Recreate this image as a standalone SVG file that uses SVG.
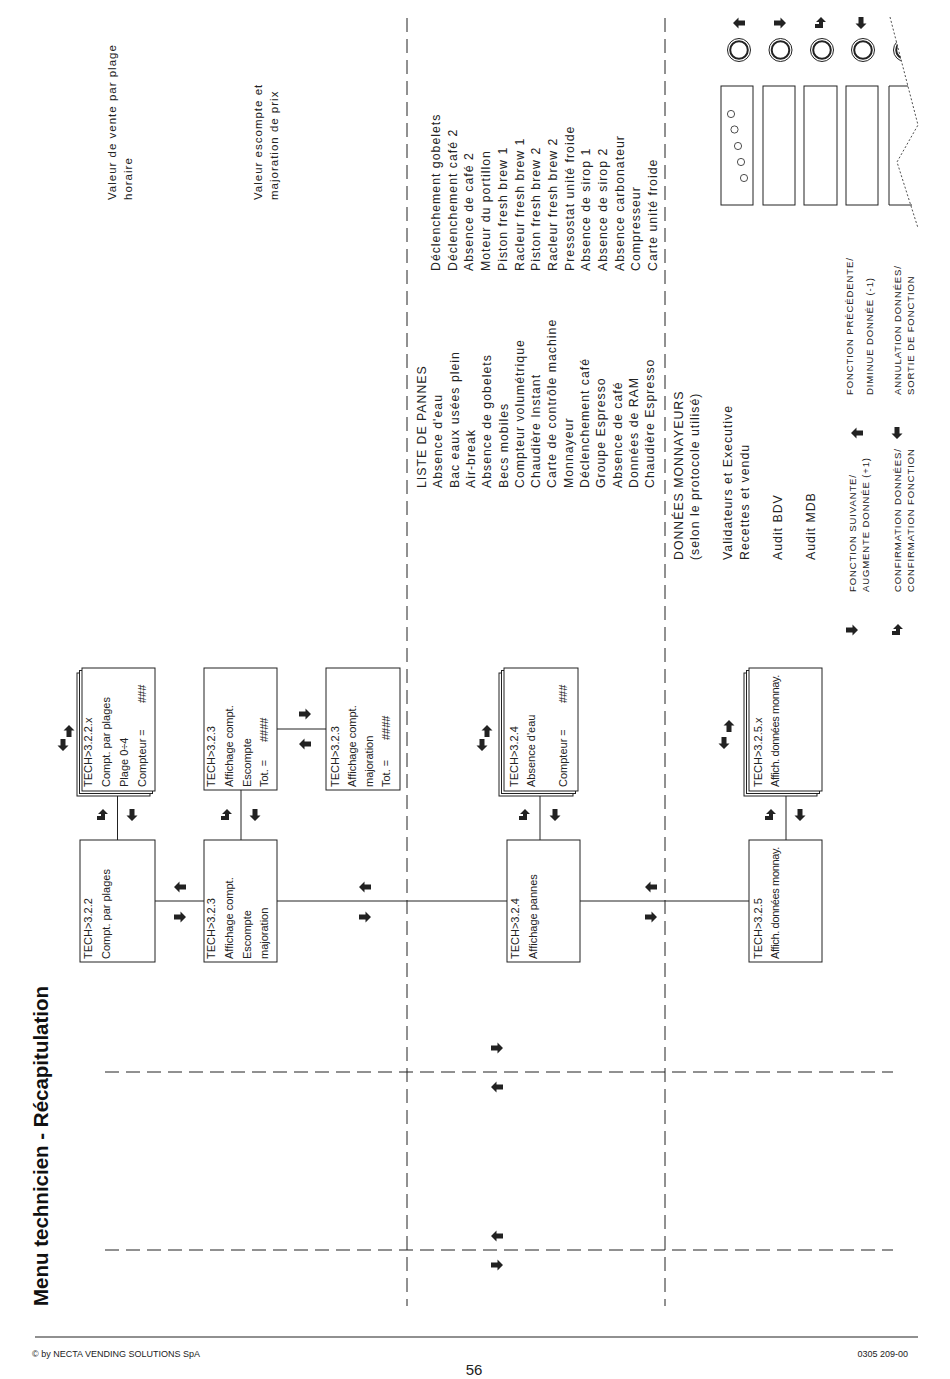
<svg xmlns="http://www.w3.org/2000/svg" width="950" height="1379" viewBox="0 0 950 1379">
<style>
text{font-family:"Liberation Sans",Arial,sans-serif;fill:#222}
.bx{fill:#fff;stroke:#222;stroke-width:1}
.bt{font-size:11px}
.nr{letter-spacing:-0.35px}
.ls{font-size:12.3px;letter-spacing:1px}
.sd{font-size:11.5px;letter-spacing:1px}
.lg{font-size:9.5px;letter-spacing:0.9px}
.ln{stroke:#222;stroke-width:1;fill:none}
.dash{stroke:#222;stroke-width:1;fill:none;stroke-dasharray:14 7}
.ar{fill:#222}
</style>
<defs>
<path id="aL" class="ar" d="M-6,0 L-0.5,-5.5 L-0.5,-2.5 L6,-2.5 L6,2.5 L-0.5,2.5 L-0.5,5.5 Z"/>
<path id="aR" class="ar" d="M6,0 L0.5,-5.5 L0.5,-2.5 L-6,-2.5 L-6,2.5 L0.5,2.5 L0.5,5.5 Z"/>
<path id="aD" class="ar" d="M0,6 L-5.5,0.5 L-2.5,0.5 L-2.5,-6 L2.5,-6 L2.5,0.5 L5.5,0.5 Z"/>
<path id="aUp" class="ar" d="M0,-6 L5.5,-0.5 L2.5,-0.5 L2.5,6 L-2.5,6 L-2.5,-0.5 L-5.5,-0.5 Z"/>
<path id="aRet" class="ar" d="M1,-6 L6,-1 L3,-1 L3,5 L-5,5 L-5,1 L-1,1 L-1,-1 L-4,-1 Z"/>
<clipPath id="cut"><polygon points="700,0 888,0 890,17 918,125 897,162 917,220 917,240 700,240"/></clipPath>
</defs>

<!-- title -->
<g id="title">
<text transform="translate(48,1306) rotate(-90)" style="font-size:20.5px;font-weight:bold;fill:#111">Menu technicien - Récapitulation</text>
</g>

<!-- separators -->
<g id="separators">
<line class="dash" x1="407" y1="18" x2="407" y2="1306"/>
<line class="dash" x1="665" y1="18" x2="665" y2="1306"/>
<line class="dash" x1="105" y1="1072" x2="893" y2="1072"/>
<line class="dash" x1="105" y1="1250" x2="893" y2="1250"/>
<use href="#aR" x="497" y="1048"/>
<use href="#aL" x="497" y="1087"/>
<use href="#aL" x="497" y="1236"/>
<use href="#aR" x="497" y="1265"/>
</g>

<!-- connectors -->
<g id="connectors">
<line class="ln" x1="155" y1="901" x2="204" y2="901"/>
<line class="ln" x1="277" y1="901" x2="507" y2="901"/>
<line class="ln" x1="580" y1="901" x2="749" y2="901"/>
<line class="ln" x1="117.5" y1="791" x2="117.5" y2="840"/>
<line class="ln" x1="241" y1="790" x2="241" y2="840"/>
<line class="ln" x1="277" y1="729" x2="326" y2="729"/>
<line class="ln" x1="540" y1="791" x2="540" y2="840"/>
<line class="ln" x1="786" y1="791" x2="786" y2="840"/>
<use href="#aL" x="180" y="887"/>
<use href="#aR" x="180" y="917"/>
<use href="#aL" x="365" y="887"/>
<use href="#aR" x="365" y="917"/>
<use href="#aL" x="651" y="887"/>
<use href="#aR" x="651" y="917"/>
<use href="#aRet" x="102" y="815"/>
<use href="#aD" x="132" y="815"/>
<use href="#aRet" x="226" y="815"/>
<use href="#aD" x="255" y="815"/>
<use href="#aRet" x="524" y="815"/>
<use href="#aD" x="555" y="815"/>
<use href="#aRet" x="770" y="815"/>
<use href="#aD" x="800" y="815"/>
<use href="#aR" x="305" y="714"/>
<use href="#aL" x="305" y="744"/>
<use href="#aUp" x="69" y="731"/>
<use href="#aD" x="63" y="745"/>
<use href="#aUp" x="487" y="731"/>
<use href="#aD" x="482" y="745"/>
<use href="#aUp" x="729" y="726"/>
<use href="#aD" x="724" y="743"/>
</g>

<!-- nodes -->
<g id="n322">
<rect class="bx" x="80" y="840" width="75" height="122"/>
<g transform="translate(0,959) rotate(-90)" class="bt">
<text x="0" y="92">TECH&gt;3.2.2</text>
<text x="0" y="110">Compt. par plages</text>
</g>
</g>

<g id="n323a">
<rect class="bx" x="204" y="840" width="73" height="122"/>
<g transform="translate(0,959) rotate(-90)" class="bt">
<text x="0" y="215">TECH&gt;3.2.3</text>
<text x="0" y="233">Affichage compt.</text>
<text x="0" y="251">Escompte</text>
<text x="0" y="268">majoration</text>
</g>
</g>

<g id="n322x">
<rect class="bx" x="77" y="673" width="73" height="123"/>
<rect class="bx" x="79.5" y="670.5" width="73" height="123"/>
<rect class="bx" x="82" y="668" width="73" height="123"/>
<g transform="translate(0,787) rotate(-90)" class="bt">
<text x="0" y="92">TECH&gt;3.2.2.x</text>
<text x="0" y="110">Compt. par plages</text>
<text x="0" y="128">Plage  0÷4</text>
<text x="0" y="146">Compteur  =</text>
<text x="84" y="146">###</text>
</g>
</g>

<g id="n323b">
<rect class="bx" x="204" y="668" width="73" height="122"/>
<g transform="translate(0,787) rotate(-90)" class="bt">
<text x="0" y="215">TECH&gt;3.2.3</text>
<text x="0" y="233">Affichage compt.</text>
<text x="0" y="251">Escompte</text>
<text x="0" y="268">Tot. =</text>
<text x="45" y="268">####</text>
</g>
</g>

<g id="n323c">
<rect class="bx" x="326" y="668" width="74" height="122"/>
<g transform="translate(0,787) rotate(-90)" class="bt">
<text x="0" y="339">TECH&gt;3.2.3</text>
<text x="0" y="356">Affichage compt.</text>
<text x="0" y="373">majoration</text>
<text x="0" y="390">Tot. =</text>
<text x="47" y="390">####</text>
</g>
</g>

<g id="n324">
<rect class="bx" x="507" y="840" width="73" height="122"/>
<g transform="translate(0,959) rotate(-90)" class="bt">
<text x="0" y="519">TECH&gt;3.2.4</text>
<text x="0" y="537">Affichage pannes</text>
</g>
</g>

<g id="n324x">
<rect class="bx" x="499" y="673" width="74" height="123"/>
<rect class="bx" x="501.5" y="670.5" width="74" height="123"/>
<rect class="bx" x="504" y="668" width="74" height="123"/>
<g transform="translate(0,787) rotate(-90)" class="bt">
<text x="0" y="518">TECH&gt;3.2.4</text>
<text x="0" y="535">Absence d'eau</text>
<text x="0" y="567">Compteur  =</text>
<text x="84" y="567">###</text>
</g>
</g>

<g id="n325">
<rect class="bx" x="749" y="840" width="73" height="122"/>
<g transform="translate(0,959) rotate(-90)" class="bt">
<text x="0" y="762">TECH&gt;3.2.5</text>
<text x="0" y="779" class="nr">Affich. données monnay.</text>
</g>
</g>

<g id="n325x">
<rect class="bx" x="744" y="673" width="73" height="123"/>
<rect class="bx" x="746.5" y="670.5" width="73" height="123"/>
<rect class="bx" x="749" y="668" width="73" height="123"/>
<g transform="translate(0,787) rotate(-90)" class="bt">
<text x="0" y="762">TECH&gt;3.2.5.x</text>
<text x="0" y="779" class="nr">Affich. données monnay.</text>
</g>
</g>

<!-- side notes -->
<g id="notes">
<g transform="translate(0,200) rotate(-90)" class="sd">
<text x="0" y="116">Valeur de vente par plage</text>
<text x="0" y="132">horaire</text>
<text x="0" y="262">Valeur escompte et</text>
<text x="0" y="278">majoration de prix</text>
</g>
</g>

<g id="pannes">
<g transform="translate(0,488) rotate(-90)" class="ls">
<text x="0" y="426">LISTE DE PANNES</text>
<text x="0" y="442.3">Absence d'eau</text>
<text x="0" y="458.6">Bac eaux usées plein</text>
<text x="0" y="474.9">Air-break</text>
<text x="0" y="491.2">Absence de gobelets</text>
<text x="0" y="507.5">Becs mobiles</text>
<text x="0" y="523.8">Compteur volumétrique</text>
<text x="0" y="540.1">Chaudière Instant</text>
<text x="0" y="556.4">Carte de contrôle machine</text>
<text x="0" y="572.7">Monnayeur</text>
<text x="0" y="589">Déclenchement café</text>
<text x="0" y="605.3">Groupe Espresso</text>
<text x="0" y="621.6">Absence de café</text>
<text x="0" y="637.9">Données de RAM</text>
<text x="0" y="654.2">Chaudière Espresso</text>
</g>
<g transform="translate(0,271) rotate(-90)" class="ls">
<text x="0" y="440">Déclenchement gobelets</text>
<text x="0" y="456.7">Déclenchement café 2</text>
<text x="0" y="473.4">Absence de café 2</text>
<text x="0" y="490.1">Moteur du portillon</text>
<text x="0" y="506.8">Piston fresh brew 1</text>
<text x="0" y="523.5">Racleur fresh brew 1</text>
<text x="0" y="540.2">Piston fresh brew 2</text>
<text x="0" y="556.9">Racleur fresh brew 2</text>
<text x="0" y="573.6">Pressostat unité froide</text>
<text x="0" y="590.3">Absence de sirop 1</text>
<text x="0" y="607">Absence de sirop 2</text>
<text x="0" y="623.7">Absence carbonateur</text>
<text x="0" y="640.4">Compresseur</text>
<text x="0" y="657.1">Carte unité froide</text>
</g>
</g>

<g id="monnayeurs">
<g transform="translate(0,560) rotate(-90)" class="ls">
<text x="0" y="683">DONNÉES MONNAYEURS</text>
<text x="0" y="699">(selon le protocole utilisé)</text>
<text x="0" y="732">Validateurs et Executive</text>
<text x="0" y="749">Recettes et vendu</text>
<text x="0" y="782">Audit BDV</text>
<text x="0" y="815">Audit MDB</text>
</g>
</g>

<!-- legend -->
<g id="legend">
<use href="#aR" x="852" y="630"/>
<use href="#aRet" x="897" y="630"/>
<use href="#aL" x="857" y="433"/>
<use href="#aD" x="897" y="433"/>
<g transform="translate(0,592) rotate(-90)" class="lg">
<text x="0" y="856">FONCTION SUIVANTE/</text>
<text x="0" y="869">AUGMENTE DONNÉE (+1)</text>
<text x="0" y="901">CONFIRMATION DONNÉES/</text>
<text x="0" y="914">CONFIRMATION FONCTION</text>
</g>
<g transform="translate(0,395) rotate(-90)" class="lg">
<text x="0" y="853">FONCTION PRÉCÉDENTE/</text>
<text x="0" y="873">DIMINUE DONNÉE (-1)</text>
<text x="0" y="901">ANNULATION DONNÉES/</text>
<text x="0" y="914">SORTIE DE FONCTION</text>
</g>
</g>

<!-- keypad graphic -->
<g id="keypad">
<use href="#aL" x="739" y="23"/>
<use href="#aR" x="780" y="23"/>
<use href="#aRet" x="820" y="23"/>
<use href="#aD" x="861" y="23"/>
<g fill="none" stroke="#222">
<circle cx="739" cy="50" r="11.5" stroke-width="1"/>
<circle cx="739" cy="50" r="8.8" stroke-width="2"/>
<circle cx="780.5" cy="50" r="11.5" stroke-width="1"/>
<circle cx="780.5" cy="50" r="8.8" stroke-width="2"/>
<circle cx="822" cy="50" r="11.5" stroke-width="1"/>
<circle cx="822" cy="50" r="8.8" stroke-width="2"/>
<circle cx="863" cy="50" r="11.5" stroke-width="1"/>
<circle cx="863" cy="50" r="8.8" stroke-width="2"/>
<g clip-path="url(#cut)">
<circle cx="905" cy="50" r="11.5" stroke-width="1"/>
<circle cx="905" cy="50" r="8.8" stroke-width="2"/>
</g>
<rect x="721" y="86" width="32" height="119" stroke-width="1"/>
<rect x="763" y="86" width="32" height="119" stroke-width="1"/>
<rect x="804" y="86" width="33" height="119" stroke-width="1"/>
<rect x="846" y="86" width="32" height="119" stroke-width="1"/>
<polyline points="908,86 889,86 889,205 912,205" stroke-width="1"/>
<circle cx="731" cy="114" r="3.6" stroke-width="0.8"/>
<circle cx="734.5" cy="129.5" r="3.6" stroke-width="0.8"/>
<circle cx="738" cy="146" r="3.6" stroke-width="0.8"/>
<circle cx="741" cy="162" r="3.6" stroke-width="0.8"/>
<circle cx="744" cy="178" r="3.6" stroke-width="0.8"/>
<polyline points="890,17 918,125 897,162 918,228" stroke-width="0.8" stroke-dasharray="2 2"/>
</g>
</g>

<!-- footer -->
<g id="footer">
<line x1="35" y1="1337" x2="918" y2="1337" stroke="#222" stroke-width="1.2"/>
<text x="32" y="1357" style="font-size:9px">© by NECTA VENDING SOLUTIONS SpA</text>
<text x="908" y="1357" style="font-size:9px" text-anchor="end">0305 209-00</text>
<text x="474" y="1375" style="font-size:15px" text-anchor="middle">56</text>
</g>
</svg>
